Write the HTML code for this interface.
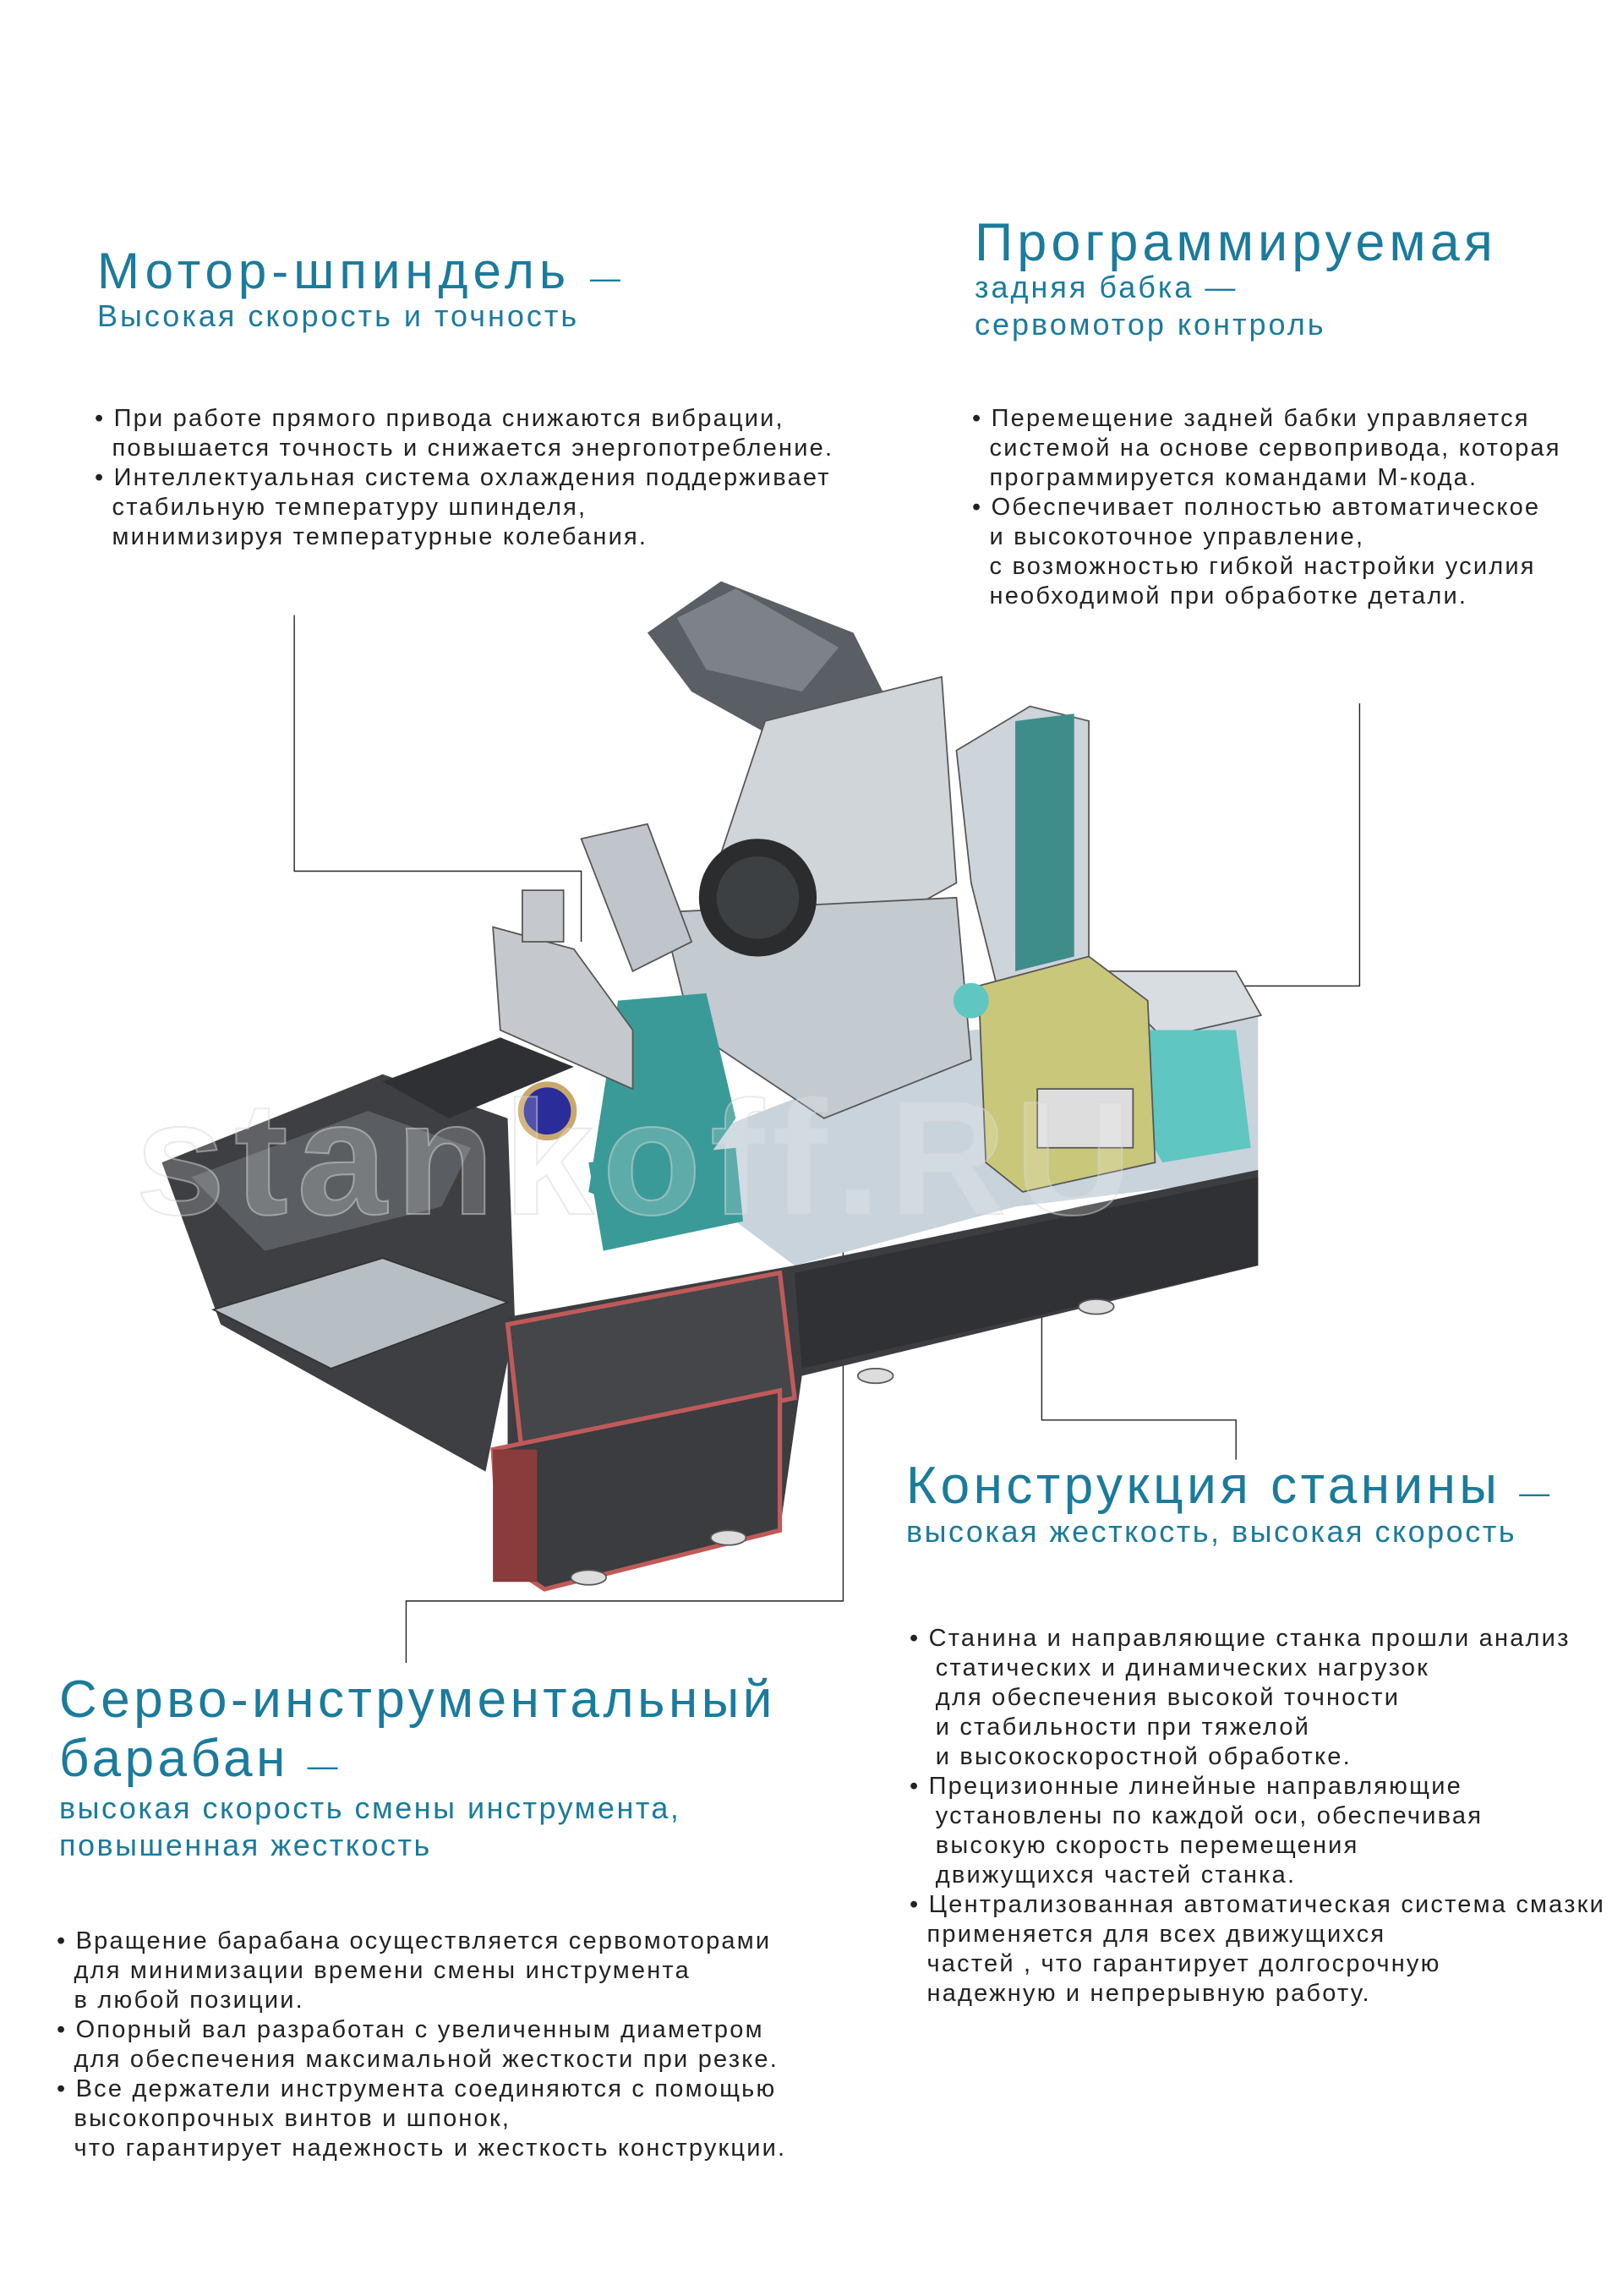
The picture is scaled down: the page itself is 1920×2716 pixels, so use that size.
<!DOCTYPE html>
<html><head><meta charset="utf-8">
<style>
html,body{margin:0;padding:0;background:#fff}
body{width:1920px;height:2716px;position:relative;overflow:hidden;font-family:"Liberation Sans","DejaVu Sans",sans-serif}
.h{position:absolute;color:#1b7b9c;white-space:pre;margin:0}
.big{font-size:60px;letter-spacing:6px;line-height:70px}
.sub{font-size:36px;letter-spacing:3px;line-height:44px}
.t{position:absolute;color:#222;white-space:pre;font-size:29px;letter-spacing:2.2px;line-height:35px}
svg{position:absolute;left:0;top:0}
</style></head><body>
<svg width="1920" height="2716" viewBox="0 0 1920 2716">
<g transform="scale(1.7407)">
 <g stroke="#222" stroke-width="0.8" fill="none">
  <polyline points="200,418 200,592 395,592 395,640"/>
  <polyline points="924,478 924,670 745,670"/>
  <polyline points="573,830 573,1088 276,1088 276,1130"/>
  <polyline points="708,890 708,965 840,965 840,992"/>
 </g>
 <polygon points="110,790 260,730 345,760 350,900 330,1000 150,900" fill="#3d3f42"/>
 <polygon points="130,800 250,755 320,780 300,820 180,850" fill="#5a5e62"/>
 <polygon points="480,770 660,700 855,690 855,800 690,820 540,860 500,830" fill="#c9d3dc"/>
 <polygon points="345,895 540,860 855,795 855,860 545,935 530,1040 370,1080 345,1050" fill="#3b3d40"/>
 <polygon points="540,865 855,800 855,860 545,930" fill="#2f3134"/>
 <polygon points="345,900 530,865 540,950 355,990" fill="#444649" stroke="#c05a5a" stroke-width="3"/>
 <polygon points="335,985 530,945 530,1040 370,1080 340,1060" fill="#3a3c3f" stroke="#c05a5a" stroke-width="3"/>
 <rect x="335" y="985" width="30" height="90" fill="#8a3b3b"/>
 <polygon points="145,890 260,855 345,885 225,930" fill="#b8bfc4" stroke="#333" stroke-width="1"/>
 <polygon points="260,735 340,705 390,725 305,760" fill="#2e3033"/>
 <polygon points="440,430 490,395 580,430 600,470 560,520 470,470" fill="#5a5f65"/>
 <polygon points="460,420 500,400 570,440 545,470 480,455" fill="#7d8288"/>
 <polygon points="520,490 640,460 650,600 560,650 490,580" fill="#d0d5da" stroke="#555" stroke-width="1"/>
 <polygon points="450,620 650,610 660,720 560,760 470,700" fill="#c3cad0" stroke="#555" stroke-width="1"/>
 <polygon points="395,570 440,560 470,640 430,660" fill="#bfc5ca" stroke="#555" stroke-width="1"/>
 <circle cx="515" cy="610" r="40" fill="#2a2c2e"/>
 <circle cx="515" cy="610" r="28" fill="#3d4043"/>
 <polygon points="650,510 700,480 740,490 740,700 690,720 660,600" fill="#cdd4da" stroke="#555" stroke-width="1"/>
 <polygon points="690,490 730,485 730,650 690,660" fill="#3f8d8a"/>
 <polygon points="745,660 840,660 857,690 790,705" fill="#d8dde2" stroke="#555" stroke-width="1"/>
 <polygon points="740,700 840,700 850,780 790,790" fill="#5fc6c1"/>
 <polygon points="665,670 740,650 780,680 785,790 695,810 670,790" fill="#c9c77a" stroke="#555" stroke-width="1"/>
 <rect x="705" y="740" width="65" height="40" fill="#ddd" stroke="#555" stroke-width="1"/>
 <circle cx="660" cy="680" r="12" fill="#5fc6c1"/>
 <polygon points="420,680 480,675 500,760 450,830 400,810" fill="#3a9a98"/>
 <circle cx="372" cy="755" r="18" fill="#2a2c9a" stroke="#c9a86b" stroke-width="4"/>
 <polygon points="335,630 390,645 430,700 430,740 340,700" fill="#c5c9cd" stroke="#555" stroke-width="1"/>
 <rect x="355" y="605" width="28" height="35" fill="#c5c9cd" stroke="#555" stroke-width="1"/>
 <polygon points="400,790 500,780 505,830 410,850" fill="#3a9a98"/>
 <g fill="#ddd" stroke="#555" stroke-width="1">
  <ellipse cx="400" cy="1072" rx="12" ry="5"/><ellipse cx="495" cy="1045" rx="12" ry="5"/>
  <ellipse cx="595" cy="935" rx="12" ry="5"/><ellipse cx="745" cy="888" rx="12" ry="5"/>
 </g>
 <text x="92" y="825" font-size="110" font-family="Liberation Sans,sans-serif" font-weight="bold" fill="rgba(255,255,255,0.18)" stroke="rgba(215,215,215,0.5)" stroke-width="1.2" letter-spacing="6">stankoff.RU</text>
</g>
</svg>

<div class="h big" style="left:115px;top:286px">Мотор-шпиндель <span style="font-size:36px">—</span></div>
<div class="h sub" style="left:115px;top:352px">Высокая скорость и точность</div>
<div class="t" style="left:112px;top:478px">• При работе прямого привода снижаются вибрации,
  повышается точность и снижается энергопотребление.
• Интеллектуальная система охлаждения поддерживает
  стабильную температуру шпинделя,
  минимизируя температурные колебания.</div>

<div class="h big" style="left:1153px;top:252px;font-size:63px;letter-spacing:5px">Программируемая</div>
<div class="h sub" style="left:1153px;top:318px">задняя бабка —
сервомотор контроль</div>
<div class="t" style="left:1150px;top:478px">• Перемещение задней бабки управляется
  системой на основе сервопривода, которая
  программируется командами М-кода.
• Обеспечивает полностью автоматическое
  и высокоточное управление,
  с возможностью гибкой настройки усилия
  необходимой при обработке детали.</div>

<div class="h big" style="left:1072px;top:1723px;font-size:62px;letter-spacing:4.5px">Конструкция станины <span style="font-size:36px">—</span></div>
<div class="h sub" style="left:1072px;top:1790px;letter-spacing:2.5px">высокая жесткость, высокая скорость</div>
<div class="t" style="left:1076px;top:1921px">• Станина и направляющие станка прошли анализ
   статических и динамических нагрузок
   для обеспечения высокой точности
   и стабильности при тяжелой
   и высокоскоростной обработке.
• Прецизионные линейные направляющие
   установлены по каждой оси, обеспечивая
   высокую скорость перемещения
   движущихся частей станка.
• Централизованная автоматическая система смазки
  применяется для всех движущихся
  частей , что гарантирует долгосрочную
  надежную и непрерывную работу.</div>

<div class="h big" style="left:70px;top:1976px;font-size:62px;line-height:70px;letter-spacing:4.5px">Серво-инструментальный
барабан <span style="font-size:36px">—</span></div>
<div class="h sub" style="left:70px;top:2117px;letter-spacing:2.5px">высокая скорость смены инструмента,
повышенная жесткость</div>
<div class="t" style="left:67px;top:2279px">• Вращение барабана осуществляется сервомоторами
  для минимизации времени смены инструмента
  в любой позиции.
• Опорный вал разработан с увеличенным диаметром
  для обеспечения максимальной жесткости при резке.
• Все держатели инструмента соединяются с помощью
  высокопрочных винтов и шпонок,
  что гарантирует надежность и жесткость конструкции.</div>
</body></html>
